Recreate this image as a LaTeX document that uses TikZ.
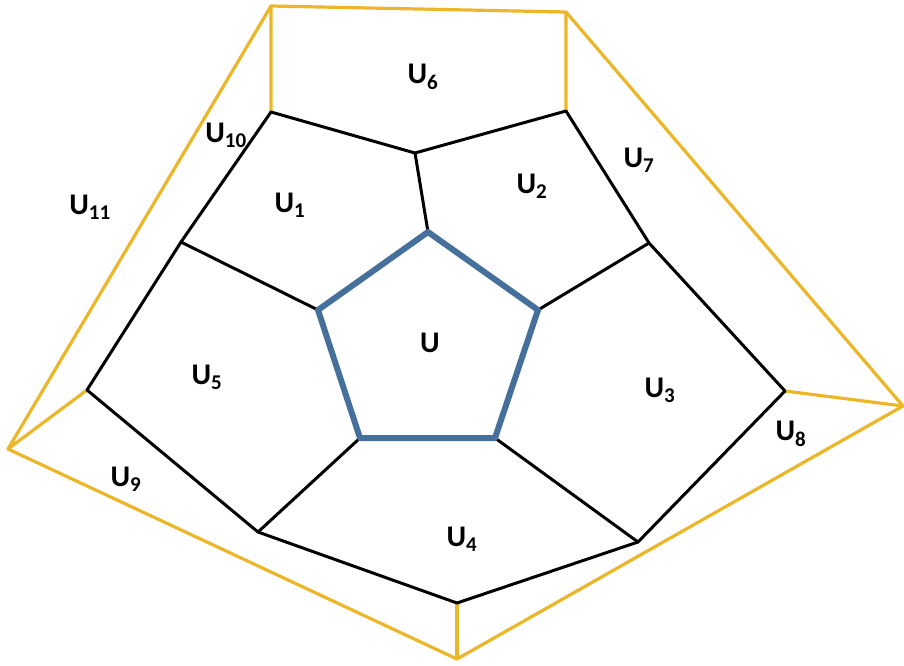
\documentclass[tikz,border=0pt]{standalone}
\usepackage{fontspec}
\setmainfont{Carlito}
\definecolor{emas}{HTML}{EBB628}
\definecolor{biru}{HTML}{45709C}
\begin{document}
\begin{tikzpicture}[x=1pt,y=-1pt,
  hitam/.style={draw=black, line width=3pt, line join=round},
  kuning/.style={draw=emas, line width=3.2pt, line join=round},
  tengah/.style={draw=biru, line width=6pt, line join=round},
  lbl/.style={font=\bfseries\fontsize{30}{32}\selectfont}]
  \useasboundingbox (0,0) rectangle (904,665);
  % segi lima tengah
  \coordinate (A1) at (428,232);
  \coordinate (A2) at (538,310);
  \coordinate (A3) at (495,438);
  \coordinate (A4) at (360,438);
  \coordinate (A5) at (318,310);
  % titik luar hitam
  \coordinate (B1) at (415,153);
  \coordinate (B2) at (566,111);
  \coordinate (B3) at (649,243);
  \coordinate (B4) at (785,391);
  \coordinate (B5) at (638,542);
  \coordinate (B6) at (457,603);
  \coordinate (B7) at (258,532);
  \coordinate (B8) at (87,390);
  \coordinate (B9) at (181,242);
  \coordinate (B10) at (271,112);
  % titik kuning
  \coordinate (C1) at (271,6);
  \coordinate (C2) at (566,12);
  \coordinate (C3) at (903,406);
  \coordinate (C4) at (457,659);
  \coordinate (C5) at (8,449);
  % garis kuning
  \draw[kuning] (B10) -- (C1) -- (C2) -- (B2);
  \draw[kuning] (C1) -- (C5) -- (C4) -- (C3) -- (C2);
  \draw[kuning] (C5) -- (B8);
  \draw[kuning] (C4) -- (B6);
  \draw[kuning] (C3) -- (B4);
  % garis hitam
  \draw[hitam] (B10) -- (B1) -- (B2) -- (B3) -- (B4) -- (B5) -- (B6)
    -- (B7) -- (B8) -- (B9) -- cycle;
  \draw[hitam] (B1) -- (A1);
  \draw[hitam] (B3) -- (A2);
  \draw[hitam] (B5) -- (A3);
  \draw[hitam] (B7) -- (A4);
  \draw[hitam] (B9) -- (A5);
  \draw[tengah] (A1) -- (A2) -- (A3) -- (A4) -- (A5) -- cycle;
  % label daerah
  \node[lbl] (u) at (430,343) {U};
  \node[lbl] (u1) at (290,205) {U\textsubscript{1}};
  \node[lbl] (u2) at (532,186) {U\textsubscript{2}};
  \node[lbl] (u3) at (660,390) {U\textsubscript{3}};
  \node[lbl] (u4) at (462,539) {U\textsubscript{4}};
  \node[lbl] (u5) at (207,377) {U\textsubscript{5}};
  \node[lbl] (u6) at (423,77) {U\textsubscript{6}};
  \node[lbl] (u7) at (639,160) {U\textsubscript{7}};
  \node[lbl] (u8) at (791,434) {U\textsubscript{8}};
  \node[lbl] (u9) at (126,479) {U\textsubscript{9}};
  \node[lbl] (u10) at (226,135) {U\textsubscript{10}};
  \node[lbl] (u11) at (90,207) {U\textsubscript{11}};
\end{tikzpicture}
\end{document}
